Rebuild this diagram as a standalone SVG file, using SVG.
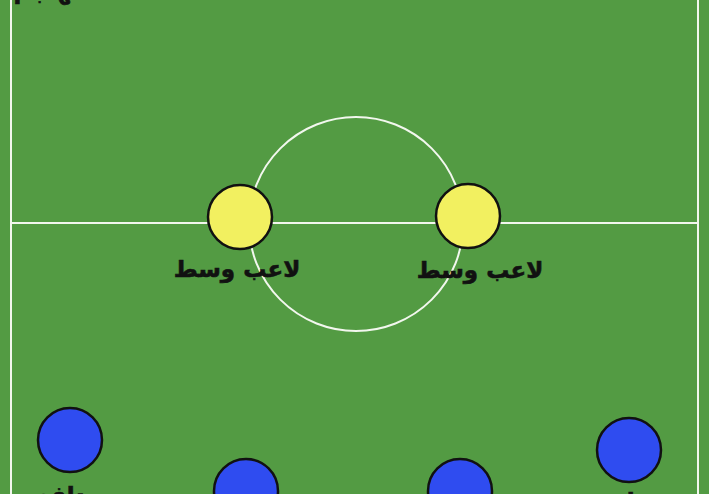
<svg xmlns="http://www.w3.org/2000/svg" width="709" height="494" viewBox="0 0 709 494">
<style>
.line{fill:none;stroke:#f2f7ee;stroke-width:2}
.mid{fill:#f2f060;stroke:#111;stroke-width:2.5}
.def{fill:#2f4cf0;stroke:#111;stroke-width:2.5}
.lbl{font-family:"DejaVu Sans",sans-serif;font-weight:bold;font-size:23px;fill:#111;stroke:#111;stroke-width:0.6;text-anchor:middle}
</style>
<rect x="0" y="0" width="709" height="494" fill="#539b43"/>
<g id="pitch-lines">
<line class="line" x1="11" y1="0" x2="11" y2="494"/>
<line class="line" x1="698" y1="0" x2="698" y2="494"/>
<line class="line" x1="11" y1="223" x2="698" y2="223"/>
<circle class="line" cx="356" cy="224" r="107"/>
</g>
<g id="connectors"></g>
<g id="forward">
<text class="lbl" x="50" y="-1" direction="rtl">مهاجم</text>
</g>
<g id="mid-left">
<circle class="mid" cx="240" cy="217" r="32"/>
<text class="lbl" x="237" y="277" direction="rtl">لاعب وسط</text>
</g>
<g id="mid-right">
<circle class="mid" cx="468" cy="216" r="32"/>
<text class="lbl" x="480" y="278" direction="rtl">لاعب وسط</text>
</g>
<g id="def-1">
<circle class="def" cx="70" cy="440" r="32"/>
<text class="lbl" x="69" y="503" direction="rtl">مدافع</text>
</g>
<g id="def-2">
<circle class="def" cx="246" cy="491" r="32"/>
</g>
<g id="def-3">
<circle class="def" cx="460" cy="491" r="32"/>
</g>
<g id="def-4">
<circle class="def" cx="629" cy="450" r="32"/>
<text class="lbl" x="629" y="509" direction="rtl">مدافع</text>
</g>
</svg>
